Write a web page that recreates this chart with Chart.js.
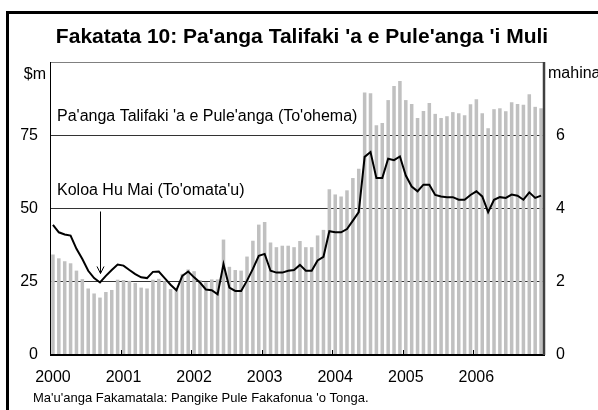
<!DOCTYPE html>
<html>
<head>
<meta charset="utf-8">
<script src="https://cdn.jsdelivr.net/npm/chart.js@4"></script>
<style>
  html, body { margin: 0; padding: 0; background: #fff; }
  canvas { display: block; }
</style>
</head>
<body>
<canvas id="chart" width="598" height="410"></canvas>
<script>
// Fakatata 10 — pa'anga talifaki (bars, $m) mo e koloa hu mai (line, mahina)

const years = ['2000', '2001', '2002', '2003', '2004', '2005', '2006'];

// one label per month, year shown on January only
const monthLabels = years.flatMap(y => [y, '', '', '', '', '', '', '', '', '', '', '']);

// Pa'anga Talifaki 'a e Pule'anga ($m), monthly
const reserves = [
  34.3, 33.0, 32.0, 31.3, 28.8, 25.9, 22.7, 21.0, 19.6, 21.5, 22.2, 25.7,
  25.6, 25.3, 24.6, 23.0, 22.7, 25.7, 26.0, 25.2, 22.5, 22.3, 27.7, 29.2,
  28.6, 25.6, 24.8, 25.8, 25.8, 39.4, 30.1, 29.0, 28.8, 33.6, 39.0, 44.5,
  45.4, 38.4, 36.8, 37.3, 37.3, 36.8, 38.9, 36.8, 36.8, 40.8, 42.7, 56.6,
  54.8, 54.1, 56.2, 60.4, 63.6, 89.6, 89.3, 78.4, 79.2, 87.0, 91.8, 93.5,
  87.0, 85.7, 80.9, 83.3, 86.0, 82.3, 80.9, 81.5, 82.9, 82.5, 81.8, 85.6,
  87.3, 82.5, 77.4, 83.9, 84.2, 83.2, 86.3, 85.7, 85.4, 89.0, 84.7, 84.2
];

// Koloa Hu Mai (mahina), monthly
const importCover = [
  3.55, 3.35, 3.29, 3.26, 2.90, 2.62, 2.30, 2.10, 1.98, 2.16, 2.32, 2.47,
  2.44, 2.32, 2.21, 2.12, 2.10, 2.27, 2.28, 2.10, 1.92, 1.77, 2.16, 2.28,
  2.12, 1.98, 1.79, 1.77, 1.66, 2.48, 1.84, 1.75, 1.75, 2.03, 2.35, 2.71,
  2.76, 2.30, 2.25, 2.25, 2.30, 2.32, 2.46, 2.30, 2.30, 2.58, 2.68, 3.38,
  3.35, 3.35, 3.44, 3.67, 3.90, 5.41, 5.54, 4.83, 4.83, 5.36, 5.32, 5.42,
  4.90, 4.60, 4.47, 4.65, 4.65, 4.37, 4.33, 4.31, 4.31, 4.24, 4.24, 4.37,
  4.47, 4.33, 3.90, 4.24, 4.31, 4.29, 4.38, 4.35, 4.24, 4.44, 4.29, 4.35
];

const FONT = 'Arial, "Liberation Sans", sans-serif';

const decorations = {
  id: 'decorations',
  afterDatasetsDraw(chart) {
    const { ctx, chartArea: a, scales } = chart;
    const x = scales.x, yL = scales.y, yR = scales.y1;
    ctx.save();

    // outer frame
    ctx.strokeStyle = '#000';
    ctx.lineWidth = 3;
    ctx.strokeRect(7.5, 12.5, 620, 420);

    // plot frame
    ctx.lineWidth = 1;
    ctx.strokeStyle = '#808080';
    ctx.beginPath(); ctx.moveTo(a.left, a.top + 0.5); ctx.lineTo(a.right, a.top + 0.5); ctx.stroke();
    ctx.strokeStyle = '#000';
    ctx.beginPath(); ctx.moveTo(a.left + 0.5, a.top); ctx.lineTo(a.left + 0.5, a.bottom); ctx.stroke();
    ctx.lineWidth = 2;
    ctx.beginPath(); ctx.moveTo(a.left, a.bottom); ctx.lineTo(a.right + 1, a.bottom); ctx.stroke();
    ctx.strokeStyle = '#404040';
    ctx.lineWidth = 2.5;
    ctx.beginPath(); ctx.moveTo(a.right, a.top); ctx.lineTo(a.right, a.bottom); ctx.stroke();

    // year ticks pointing up into the plot
    ctx.strokeStyle = '#000';
    ctx.lineWidth = 1;
    for (let i = 12; i < monthLabels.length; i += 12) {
      const px = Math.round((x.getPixelForValue(i - 1) + x.getPixelForValue(i)) / 2) + 0.5;
      ctx.beginPath(); ctx.moveTo(px, a.bottom); ctx.lineTo(px, a.bottom - 5); ctx.stroke();
    }

    // titles and notes
    ctx.fillStyle = '#000';
    ctx.textBaseline = 'middle';
    ctx.font = 'bold 21px ' + FONT;
    ctx.textAlign = 'center';
    ctx.fillText("Fakatata 10: Pa'anga Talifaki 'a e Pule'anga 'i Muli", 302, 37);

    ctx.font = '16px ' + FONT;
    ctx.textAlign = 'right';
    ctx.fillText('$m', 46, 75);
    ctx.textAlign = 'left';
    ctx.fillText('mahina', 548, 74);

    ctx.fillText("Pa'anga Talifaki 'a e Pule'anga (To'ohema)", 57, 117);
    ctx.fillText("Koloa Hu Mai (To'omata'u)", 57, 191);

    ctx.font = '13px ' + FONT;
    ctx.fillText("Ma'u'anga Fakamatala: Pangike Pule Fakafonua 'o Tonga.", 33, 398);

    // arrow to the line
    const ax = Math.round(x.getPixelForValue(8)) + 0.5;
    const tip = yR.getPixelForValue(importCover[8]) - 9;
    ctx.beginPath();
    ctx.moveTo(ax, yL.getPixelForValue(50) + 3);
    ctx.lineTo(ax, tip);
    ctx.stroke();
    ctx.beginPath();
    ctx.moveTo(ax - 3.5, tip - 7);
    ctx.lineTo(ax, tip);
    ctx.lineTo(ax + 3.5, tip - 7);
    ctx.stroke();

    ctx.restore();
  }
};

new Chart(document.getElementById('chart'), {
  type: 'bar',
  data: {
    labels: monthLabels,
    datasets: [
      {
        type: 'line',
        label: "Koloa Hu Mai",
        data: importCover,
        yAxisID: 'y1',
        borderColor: '#000',
        borderWidth: 2,
        pointRadius: 0,
        tension: 0,
        order: 0
      },
      {
        type: 'bar',
        label: "Pa'anga Talifaki",
        data: reserves,
        yAxisID: 'y',
        backgroundColor: '#c0c0c0',
        barPercentage: 0.6,
        categoryPercentage: 1,
        order: 1
      }
    ]
  },
  options: {
    responsive: false,
    animation: false,
    layout: { padding: { top: 62, left: 0, right: 0, bottom: 0 } },
    plugins: { legend: { display: false }, tooltip: { enabled: false } },
    scales: {
      x: {
        grid: { display: false, drawTicks: false },
        border: { display: false },
        ticks: { autoSkip: false, maxRotation: 0, padding: 13, color: '#000', font: { family: FONT, size: 16 } },
        afterFit: s => { s.height = 55; }
      },
      y: {
        position: 'left',
        min: 0, max: 100,
        ticks: { stepSize: 25, padding: 12, color: '#000', font: { family: FONT, size: 16 },
          callback: v => v === 100 ? '' : v },
        grid: { drawTicks: false, color: c => (c.tick.value === 0 || c.tick.value === 100) ? 'rgba(0,0,0,0)' : '#333' },
        border: { display: false },
        afterFit: s => { s.width = 50; }
      },
      y1: {
        position: 'right',
        min: 0, max: 8,
        ticks: { stepSize: 2, padding: 12, color: '#000', font: { family: FONT, size: 16 },
          callback: v => v === 8 ? '' : v },
        grid: { display: false, drawTicks: false },
        border: { display: false },
        afterFit: s => { s.width = 54; }
      }
    }
  },
  plugins: [decorations]
});
</script>
</body>
</html>
